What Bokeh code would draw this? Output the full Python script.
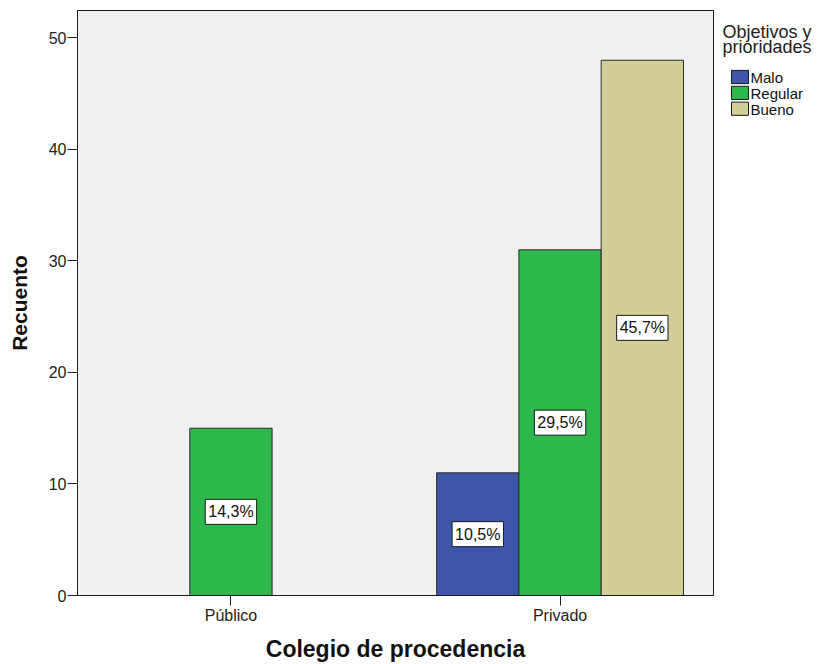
from bokeh.plotting import figure
from bokeh.layouts import row
from bokeh.models import ColumnDataSource, Label, FixedTicker, Range1d
from bokeh.core.properties import value
from bokeh.embed import file_html
from bokeh.resources import INLINE

# ---- data ----
groups = ["Público", "Privado"]
series = ["Malo", "Regular", "Bueno"]
malo = [0, 11]
regular = [15, 31]
bueno = [0, 48]
colors = ["#3d56aa", "#2eb84b", "#d3ce97"]
y_ticks = [0, 10, 20, 30, 40, 50]
x_title = "Colegio de procedencia"
y_title = "Recuento"
legend_title = ["Objetivos y", "prioridades"]

values = {"Malo": malo, "Regular": regular, "Bueno": bueno}
total = sum(sum(v) for v in values.values())

GROUP_STEP = 4.0
BAR_W = 1.0
offsets = {"Malo": -1.0, "Regular": 0.0, "Bueno": 1.0}
group_x = [i * GROUP_STEP for i in range(len(groups))]

FONT = "Liberation Sans"
H = 664

p = figure(width=714, height=H, output_backend="svg", toolbar_location=None,
           x_range=Range1d(-1.865, group_x[-1] + 1.865),
           y_range=Range1d(0, 52.46),
           min_border_left=77, min_border_right=1,
           min_border_top=10, min_border_bottom=68)
p.background_fill_color = "#f0f0f0"
p.border_fill_color = "white"
p.outline_line_color = "#1a1a1a"
p.outline_line_width = 1
p.xgrid.visible = False
p.ygrid.visible = False

for s, c in zip(series, colors):
    xs, tops, ys, txt = [], [], [], []
    for gx, v in zip(group_x, values[s]):
        if v > 0:
            xs.append(gx + offsets[s])
            tops.append(v)
            ys.append(v / 2.0)
            txt.append(f"{100.0 * v / total:.1f}%".replace(".", ","))
    src = ColumnDataSource(dict(x=xs, top=tops, y=ys, text=txt))
    p.vbar(x="x", top="top", width=BAR_W, bottom=0, source=src,
           fill_color=c, line_color="#2a2a2a", line_width=1)
    for xx, yy, tt in zip(xs, ys, txt):
        p.add_layout(Label(x=xx, y=yy, text=tt,
                           text_align="center", text_baseline="middle",
                           text_font=FONT, text_font_size="16px", text_color="#111111",
                           background_fill_color="white", border_line_color="#1a1a1a",
                           border_line_width=1, padding=(3, 4)))

# axes
p.xaxis.ticker = FixedTicker(ticks=group_x)
p.xaxis.major_label_overrides = {gx: g for gx, g in zip(group_x, groups)}
p.yaxis.ticker = FixedTicker(ticks=y_ticks)
for ax in (p.xaxis[0], p.yaxis[0]):
    ax.major_tick_out = 10
    ax.major_tick_in = 0
    ax.minor_tick_out = 0
    ax.minor_tick_in = 0
    ax.major_tick_line_color = "#1a1a1a"
    ax.axis_line_color = "#1a1a1a"
    ax.major_label_text_font = FONT
    ax.major_label_text_font_size = "16px"
    ax.major_label_text_color = "#222222"
    ax.axis_label_text_font = FONT
    ax.axis_label_text_font_style = "bold"
    ax.axis_label_text_color = "#111111"
p.xaxis.axis_label = x_title
p.yaxis.axis_label = y_title
p.xaxis.axis_label_text_font_size = "23px"
p.yaxis.axis_label_text_font_size = "21px"
p.xaxis.major_label_standoff = 1
p.yaxis.major_label_standoff = 1
p.xaxis.axis_label_standoff = 9
p.yaxis.axis_label_standoff = 15

# ---- legend panel (separate figure in pixel coordinates, y downwards) ----
LW = 822 - 714
lg = figure(width=LW, height=H, output_backend="svg", toolbar_location=None,
            x_range=Range1d(0, LW), y_range=Range1d(H, 0),
            x_axis_location=None, y_axis_location=None,
            min_border=0, min_border_left=0, min_border_right=0,
            min_border_top=0, min_border_bottom=0)
lg.outline_line_color = None
lg.xgrid.visible = False
lg.ygrid.visible = False
lg.background_fill_color = "white"
lg.border_fill_color = "white"

title_x = 8
title_top = [13, 30]
lg.text(x=[title_x] * len(legend_title), y=title_top, text=legend_title,
        text_font=value(FONT), text_font_size="18px", text_color="#222222",
        text_baseline="top", text_align="left")

row_top = 68
row_step = 18
sw_x0, sw_w, sw_h = 17, 17, 15
tops_ = [row_top + i * row_step for i in range(len(series))]
lg.quad(left=[sw_x0] * len(series), right=[sw_x0 + sw_w] * len(series),
        top=tops_, bottom=[t + sw_h for t in tops_],
        fill_color=colors, line_color="#1a1a1a", line_width=1)
lg.text(x=[sw_x0 + sw_w + 2] * len(series), y=[t + sw_h / 2 + 0.5 for t in tops_],
        text=series, text_font=value(FONT), text_font_size="15px",
        text_color="#111111", text_baseline="middle", text_align="left")

layout = row(p, lg, spacing=0)
open("out.html", "w").write(file_html(layout, INLINE))
